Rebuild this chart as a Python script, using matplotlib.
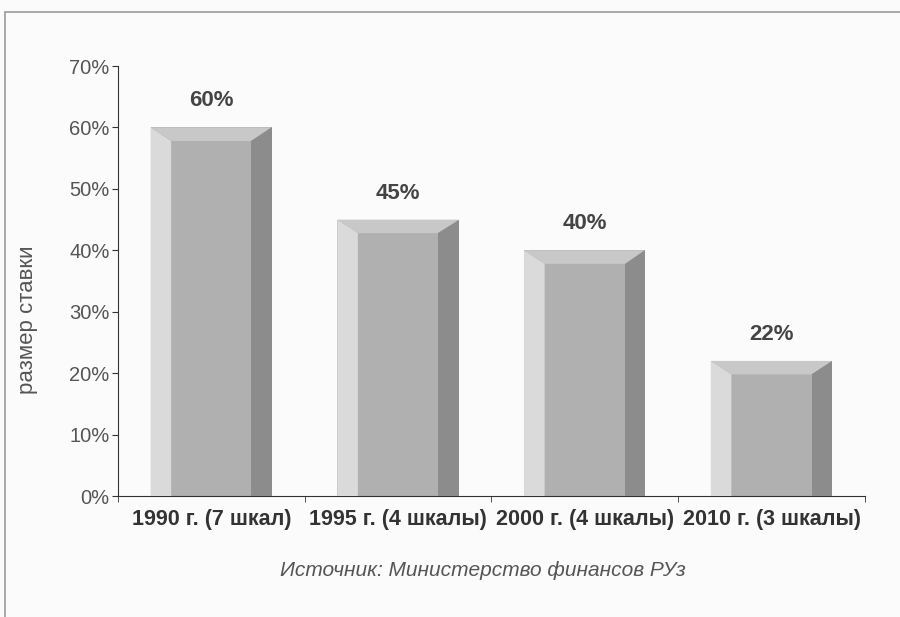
import matplotlib.pyplot as plt
from matplotlib.patches import Polygon, Rectangle
from matplotlib.ticker import FixedLocator

plt.rcParams['font.family'] = ['Liberation Sans', 'DejaVu Sans']

categories = ['1990 г. (7 шкал)', '1995 г. (4 шкалы)', '2000 г. (4 шкалы)', '2010 г. (3 шкалы)']
values = [60, 45, 40, 22]
value_labels = ['60%', '45%', '40%', '22%']
yticks = [0, 10, 20, 30, 40, 50, 60, 70]

fig = plt.figure(figsize=(9, 6.17), dpi=100, facecolor='#fbfbfb')
ax = fig.add_axes([0.131, 0.196, 0.830, 0.697])
ax.set_facecolor('#fbfbfb')

# рамка вокруг рисунка
fig.patches.append(Rectangle((0.006, -0.02), 1.1, 1.0, transform=fig.transFigure,
                             fill=False, edgecolor='#9a9a9a', lw=1.2))

width = 0.65
bx = 0.11   # ширина фаски по x
by = 2.2    # высота фаски по y

x = list(range(len(categories)))
bars = ax.bar(x, values, width=width, color='#b0b0b0', edgecolor='none', zorder=2)

for i, b in enumerate(bars):
    x0 = b.get_x()
    x1 = x0 + b.get_width()
    h = b.get_height()
    left = Polygon([(x0, 0), (x0, h), (x0 + bx, h - by), (x0 + bx, 0)],
                   closed=True, facecolor='#dadada', edgecolor='none', zorder=3)
    top = Polygon([(x0, h), (x1, h), (x1 - bx, h - by), (x0 + bx, h - by)],
                  closed=True, facecolor='#c8c8c8', edgecolor='none', zorder=3)
    right = Polygon([(x1, h), (x1, 0), (x1 - bx, 0), (x1 - bx, h - by)],
                    closed=True, facecolor='#8c8c8c', edgecolor='none', zorder=3)
    ax.add_patch(left)
    ax.add_patch(top)
    ax.add_patch(right)
    ax.text(x0 + b.get_width() / 2, h + 2.6, value_labels[i],
            ha='center', va='bottom', fontsize=16, fontweight='bold', color='#444444')

ax.set_xlim(-0.5, len(categories) - 0.5)
ax.set_ylim(0, 70)
ax.set_yticks(yticks)
ax.set_yticklabels([f'{t}%' for t in yticks], fontsize=14.5, color='#555555')
ax.set_xticks(x)
ax.set_xticklabels(categories, fontsize=15.5, fontweight='bold', color='#333333')
ax.tick_params(axis='x', which='major', length=0, pad=9)
ax.xaxis.set_minor_locator(FixedLocator([i - 0.5 for i in range(len(categories) + 1)]))
ax.tick_params(axis='x', which='minor', length=4, color='#333333')
ax.tick_params(axis='y', length=4, color='#333333', pad=2)

for s in ['top', 'right']:
    ax.spines[s].set_visible(False)
ax.spines['left'].set_color('#333333')
ax.spines['bottom'].set_color('#333333')

ax.set_ylabel('размер ставки', fontsize=16, color='#555555')
ax.yaxis.set_label_coords(-0.107, 0.41)

fig.text(0.537, 0.076, 'Источник: Министерство финансов РУз', ha='center', va='center',
         fontsize=15, style='italic', color='#555555')

fig.savefig('out.png', dpi=100, facecolor=fig.get_facecolor())
